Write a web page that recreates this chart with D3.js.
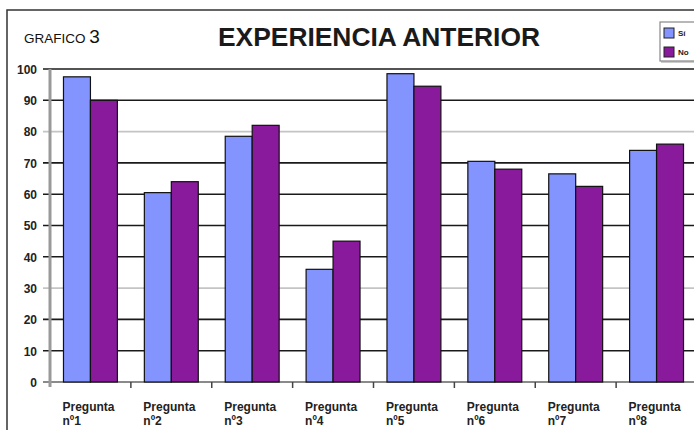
<!DOCTYPE html>
<html>
<head>
<meta charset="utf-8">
<script src="https://cdn.jsdelivr.net/npm/d3@7"></script>
<style>
  body { margin: 0; background: #fff; }
  svg { display: block; }
  .narrow { font-family: "Liberation Sans Narrow", "Liberation Sans", Arial, sans-serif; font-weight: bold; }
</style>
</head>
<body>
<svg id="chart" width="694" height="430"></svg>
<script>
// data
var categories = ['nº1', 'nº2', 'nº3', 'nº4', 'nº5', 'nº6', 'nº7', 'nº8'];
var siValues = [97.5, 60.5, 78.5, 36, 98.5, 70.5, 66.5, 74];
var noValues = [90, 64, 82, 45, 94.5, 68, 62.5, 76];
var seriesNames = ['Sí', 'No'];
var yTicks = [0, 10, 20, 30, 40, 50, 60, 70, 80, 90, 100];

var colors = { 'Sí': '#8494ff', 'No': '#8a1a9c' };

var plotLeft = 50;
var plotRight = 697;
var plotTop = 69;
var plotBottom = 382;

var svg = d3.select('#chart');

var rows = categories.map((c, i) => ({ cat: c, 'Sí': siValues[i], 'No': noValues[i] }));

var x = d3.scaleBand()
    .domain(categories)
    .range([plotLeft, plotRight])
    .paddingInner(1 / 3)
    .paddingOuter(1 / 6);

var xInner = d3.scaleBand()
    .domain(seriesNames)
    .range([0, x.bandwidth()]);

var y = d3.scaleLinear()
    .domain([0, 100])
    .range([plotBottom, plotTop]);

// outer frame (right and bottom run off the picture)
svg.append('rect')
    .attr('x', 7).attr('y', 10)
    .attr('width', 720).attr('height', 440)
    .attr('fill', 'none')
    .attr('stroke', '#333')
    .attr('stroke-width', 1.5);

// gridlines, some came out lighter in the scan
svg.append('g')
    .selectAll('line')
    .data(yTicks.filter(d => d > 0))
    .enter().append('line')
    .attr('x1', plotLeft - 7)
    .attr('x2', plotRight)
    .attr('y1', d => y(d))
    .attr('y2', d => y(d))
    .attr('stroke', d => (d == 80 || d == 30) ? '#c4c4c4' : '#1a1a1a')
    .attr('stroke-width', 1.6);

// y axis labels
var yAxis = d3.axisLeft(y).tickValues(yTicks).tickSize(0).tickPadding(0);
var yg = svg.append('g')
    .attr('transform', `translate(${plotLeft - 13},0)`)
    .call(yAxis);
yg.select('.domain').remove();
yg.selectAll('text')
    .attr('class', 'narrow')
    .style('font-size', '12px')
    .attr('fill', '#222')
    .attr('dy', '0.36em');

// zero line and gray axis bar
svg.append('line')
    .attr('x1', plotLeft - 7).attr('x2', plotRight)
    .attr('y1', y(0)).attr('y2', y(0))
    .attr('stroke', '#8a8a8a').attr('stroke-width', 2);

svg.append('line')
    .attr('x1', plotLeft).attr('x2', plotLeft)
    .attr('y1', y(100)).attr('y2', y(0) + 5)
    .attr('stroke', '#999').attr('stroke-width', 3);

// category tick marks between groups
svg.append('g')
    .selectAll('line')
    .data(categories.slice(1))
    .enter().append('line')
    .attr('x1', d => x(d) - x.step() * x.paddingInner() / 2)
    .attr('x2', d => x(d) - x.step() * x.paddingInner() / 2)
    .attr('y1', y(0))
    .attr('y2', y(0) + 6)
    .attr('stroke', '#444')
    .attr('stroke-width', 1.5);

// bars
var groups = svg.append('g')
    .selectAll('g')
    .data(rows)
    .enter().append('g')
    .attr('transform', d => `translate(${x(d.cat)},0)`);

groups.selectAll('rect')
    .data(d => seriesNames.map(s => ({ key: s, value: d[s] })))
    .enter().append('rect')
    .attr('x', d => xInner(d.key))
    .attr('y', d => y(d.value))
    .attr('width', xInner.bandwidth())
    .attr('height', d => y(0) - y(d.value))
    .attr('fill', d => colors[d.key])
    .attr('stroke', '#111')
    .attr('stroke-width', 1.2);

// x labels, two lines
var xl = svg.append('g')
    .selectAll('text')
    .data(categories)
    .enter().append('text')
    .attr('class', 'narrow')
    .style('font-size', '12px')
    .attr('fill', '#222')
    .attr('x', d => x(d) - 1)
    .attr('y', 411);
xl.append('tspan').text('Pregunta');
xl.append('tspan')
    .attr('x', d => x(d) - 1)
    .attr('dy', 14)
    .text(d => d);

// titles
var gt = svg.append('text')
    .attr('x', 24).attr('y', 43)
    .attr('fill', '#111')
    .style('font-family', '"Liberation Sans", Arial, sans-serif');
gt.append('tspan').style('font-size', '13.5px').text('GRAFICO ');
gt.append('tspan').style('font-size', '19px').text('3');

svg.append('text')
    .attr('x', 218).attr('y', 46)
    .attr('textLength', 322)
    .attr('lengthAdjust', 'spacingAndGlyphs')
    .style('font-family', '"Liberation Sans", Arial, sans-serif')
    .style('font-weight', 'bold')
    .style('font-size', '25px')
    .attr('fill', '#1a1a1a')
    .text('EXPERIENCIA ANTERIOR');

// legend
var legend = svg.append('g').attr('transform', 'translate(660,22)');
legend.append('rect')
    .attr('x', 1).attr('y', 1)
    .attr('width', 42).attr('height', 40)
    .attr('fill', '#ccc');
legend.append('rect')
    .attr('width', 42).attr('height', 39)
    .attr('fill', '#fff')
    .attr('stroke', '#888')
    .attr('stroke-width', 1.2);
var li = legend.selectAll('.li')
    .data(seriesNames)
    .enter().append('g')
    .attr('class', 'li')
    .attr('transform', (d, i) => `translate(4,${6 + i * 19})`);
li.append('rect')
    .attr('width', 10).attr('height', 10)
    .attr('fill', d => colors[d])
    .attr('stroke', '#222')
    .attr('stroke-width', 1);
li.append('text')
    .attr('class', 'narrow')
    .attr('x', 14).attr('y', 8)
    .style('font-size', '8px')
    .attr('fill', '#222')
    .text(d => d);
</script>
</body>
</html>
